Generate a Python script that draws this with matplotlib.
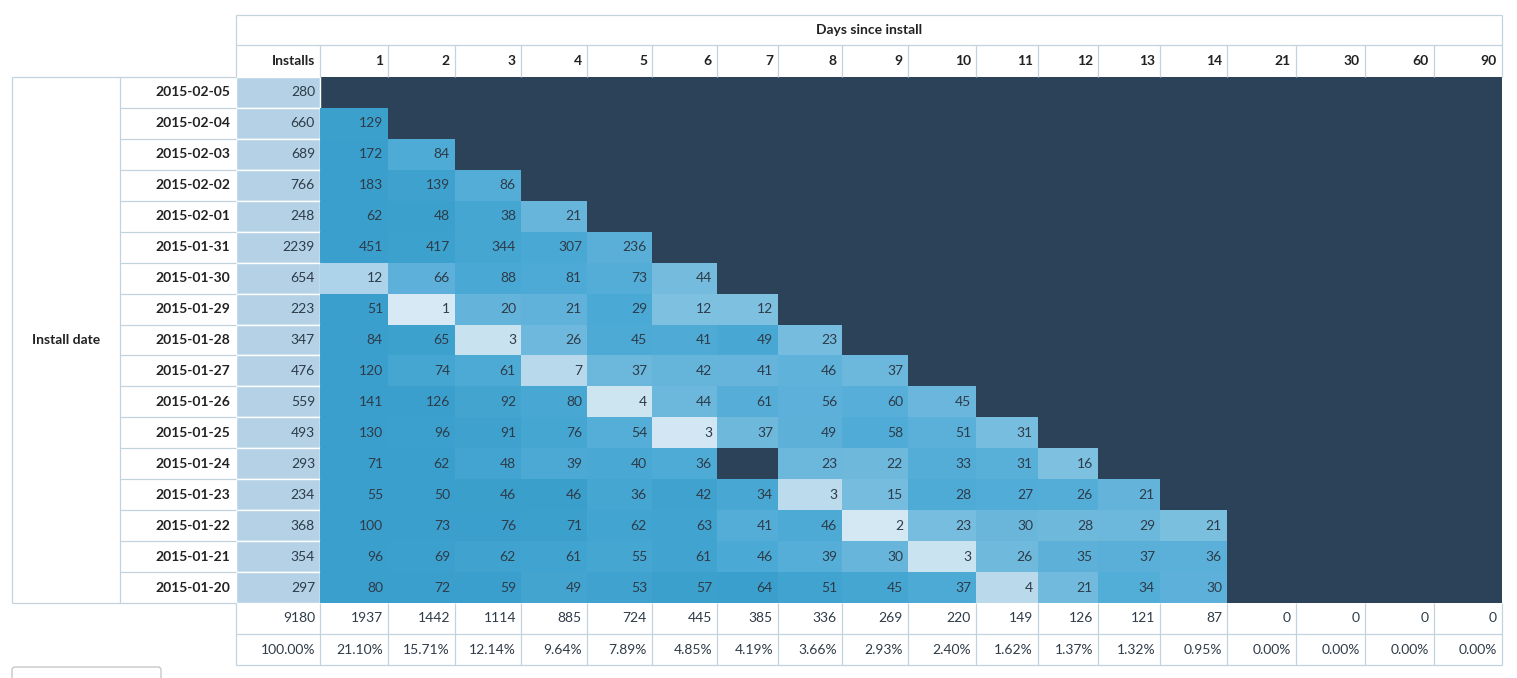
import matplotlib.pyplot as plt
import matplotlib.patches as patches
from matplotlib.colors import LinearSegmentedColormap, Normalize

plt.rcParams['font.family'] = ['Lato', 'DejaVu Sans']

# ── data ─────────────────────────────────────────────────────────
dates = ['2015-02-05', '2015-02-04', '2015-02-03', '2015-02-02', '2015-02-01',
         '2015-01-31', '2015-01-30', '2015-01-29', '2015-01-28', '2015-01-27',
         '2015-01-26', '2015-01-25', '2015-01-24', '2015-01-23', '2015-01-22',
         '2015-01-21', '2015-01-20']
installs = [280, 660, 689, 766, 248, 2239, 654, 223, 347, 476, 559, 493,
            293, 234, 368, 354, 297]
days = ['1', '2', '3', '4', '5', '6', '7', '8', '9', '10', '11', '12',
        '13', '14', '21', '30', '60', '90']
retained = [
    [],
    [129],
    [172, 84],
    [183, 139, 86],
    [62, 48, 38, 21],
    [451, 417, 344, 307, 236],
    [12, 66, 88, 81, 73, 44],
    [51, 1, 20, 21, 29, 12, 12],
    [84, 65, 3, 26, 45, 41, 49, 23],
    [120, 74, 61, 7, 37, 42, 41, 46, 37],
    [141, 126, 92, 80, 4, 44, 61, 56, 60, 45],
    [130, 96, 91, 76, 54, 3, 37, 49, 58, 51, 31],
    [71, 62, 48, 39, 40, 36, None, 23, 22, 33, 31, 16],
    [55, 50, 46, 46, 36, 42, 34, 3, 15, 28, 27, 26, 21],
    [100, 73, 76, 71, 62, 63, 41, 46, 2, 23, 30, 28, 29, 21],
    [96, 69, 62, 61, 55, 61, 46, 39, 30, 3, 26, 35, 37, 36],
    [80, 72, 59, 49, 53, 57, 64, 51, 45, 37, 4, 21, 34, 30],
]
totals = [9180, 1937, 1442, 1114, 885, 724, 445, 385, 336, 269, 220, 149,
          126, 121, 87, 0, 0, 0, 0]
total_pct = ['100.00%', '21.10%', '15.71%', '12.14%', '9.64%', '7.89%', '4.85%',
             '4.19%', '3.66%', '2.93%', '2.40%', '1.62%', '1.37%', '1.32%',
             '0.95%', '0.00%', '0.00%', '0.00%', '0.00%']

# ── layout (pixels) ──────────────────────────────────────────────
W, H = 1517, 678
col_edges = [236, 320, 388, 455, 521, 587, 652, 717, 778, 842, 908, 976,
             1038, 1098, 1160, 1227, 1296, 1365, 1434, 1502]
top_hdr, col_hdr, data_top, data_bot = 15, 45, 77, 603
row_h = (data_bot - data_top) / len(dates)
tot_bot, pct_bot = 634, 665
LINE = '#c3d3de'
DARK = '#2b4259'
TXT = '#2e3b48'
FS = 10

# colour follows retention share (retained / installs)
cmap = LinearSegmentedColormap.from_list(
    'ret', [(0, '#e2eff7'), (0.1, '#a6d0e7'), (0.27, '#7dc0e0'),
            (0.42, '#68b5db'), (0.6, '#4eabd6'), (1, '#3a9fcc')])
norm = Normalize(0, 0.2, clip=True)

fig = plt.figure(figsize=(W / 100, H / 100), dpi=100)
ax = fig.add_axes([0, 0, 1, 1])
ax.set_xlim(0, W)
ax.set_ylim(H, 0)
ax.axis('off')
fig.patch.set_facecolor('white')

def line(x0, x1, y0, y1, c=LINE, lw=0.9, z=5):
    ax.plot([x0, x1], [y0, y1], color=c, lw=lw, zorder=z, solid_capstyle='butt')

# dark background behind the retention grid
ax.add_patch(patches.Rectangle((col_edges[1], data_top), col_edges[-1] - col_edges[1],
                               data_bot - data_top, facecolor=DARK, edgecolor='none', zorder=1))

for i, (d, n, vals) in enumerate(zip(dates, installs, retained)):
    y0 = data_top + i * row_h
    yc = y0 + row_h / 2
    # installs cell
    ax.add_patch(patches.Rectangle((col_edges[0], y0), col_edges[1] - col_edges[0], row_h,
                                   facecolor='#b4d1e6', edgecolor='white', lw=1, zorder=2))
    ax.text(col_edges[1] - 5, yc, str(n), ha='right', va='center', fontsize=FS, color=TXT, zorder=6)
    # date label
    ax.text(col_edges[0] - 6, yc, d, ha='right', va='center', fontsize=FS,
            fontweight='bold', color='#222222', zorder=6)
    if i > 0:
        line(120, col_edges[0], y0, y0)
    for j, v in enumerate(vals):
        if v is None:
            continue
        x0, x1 = col_edges[j + 1], col_edges[j + 2]
        ax.add_patch(patches.Rectangle((x0, y0), x1 - x0, row_h,
                                       facecolor=cmap(norm(v / n)), edgecolor='none', zorder=2))
        ax.text(x1 - 5, yc, str(v), ha='right', va='center', fontsize=FS, color=TXT, zorder=6)

# left header block
line(12, col_edges[0], data_top, data_top)
line(12, col_edges[0], data_bot, data_bot)
line(12, 12, data_top, data_bot)
line(120, 120, data_top, data_bot)
ax.text(66, (data_top + data_bot) / 2, 'Install date', ha='center', va='center',
        fontsize=FS, fontweight='bold', color='#222222')

# top header
line(col_edges[0], col_edges[-1], top_hdr, top_hdr)
line(col_edges[0], col_edges[-1], col_hdr, col_hdr)
line(col_edges[0], col_edges[0], top_hdr, data_top)
line(col_edges[-1], col_edges[-1], top_hdr, data_top)
ax.text((col_edges[0] + col_edges[-1]) / 2, (top_hdr + col_hdr) / 2, 'Days since install',
        ha='center', va='center', fontsize=FS, fontweight='bold', color='#222222')
for j, lab in enumerate(['Installs'] + days):
    x1 = col_edges[j + 1]
    if j < len(days):
        line(x1, x1, col_hdr, data_top)
    ax.text(x1 - 5, (col_hdr + data_top) / 2, lab, ha='right', va='center',
            fontsize=FS, fontweight='bold', color='#222222')

# totals rows
line(col_edges[0], col_edges[-1], tot_bot, tot_bot)
line(col_edges[0], col_edges[-1], pct_bot, pct_bot)
for x in col_edges:
    line(x, x, data_bot, pct_bot)
for j, (t, p) in enumerate(zip(totals, total_pct)):
    x1 = col_edges[j + 1]
    ax.text(x1 - 5, (data_bot + tot_bot) / 2, str(t), ha='right', va='center',
            fontsize=FS, color=TXT)
    ax.text(x1 - 5, (tot_bot + pct_bot) / 2, p, ha='right', va='center',
            fontsize=FS, color=TXT)

# partially visible button at the bottom
ax.add_patch(patches.FancyBboxPatch((12, 667), 149, 30, boxstyle='round,pad=0,rounding_size=3',
                                    facecolor='white', edgecolor='#c8c8c8', lw=1, zorder=3))

fig.savefig('out.png', dpi=100, facecolor='white')
